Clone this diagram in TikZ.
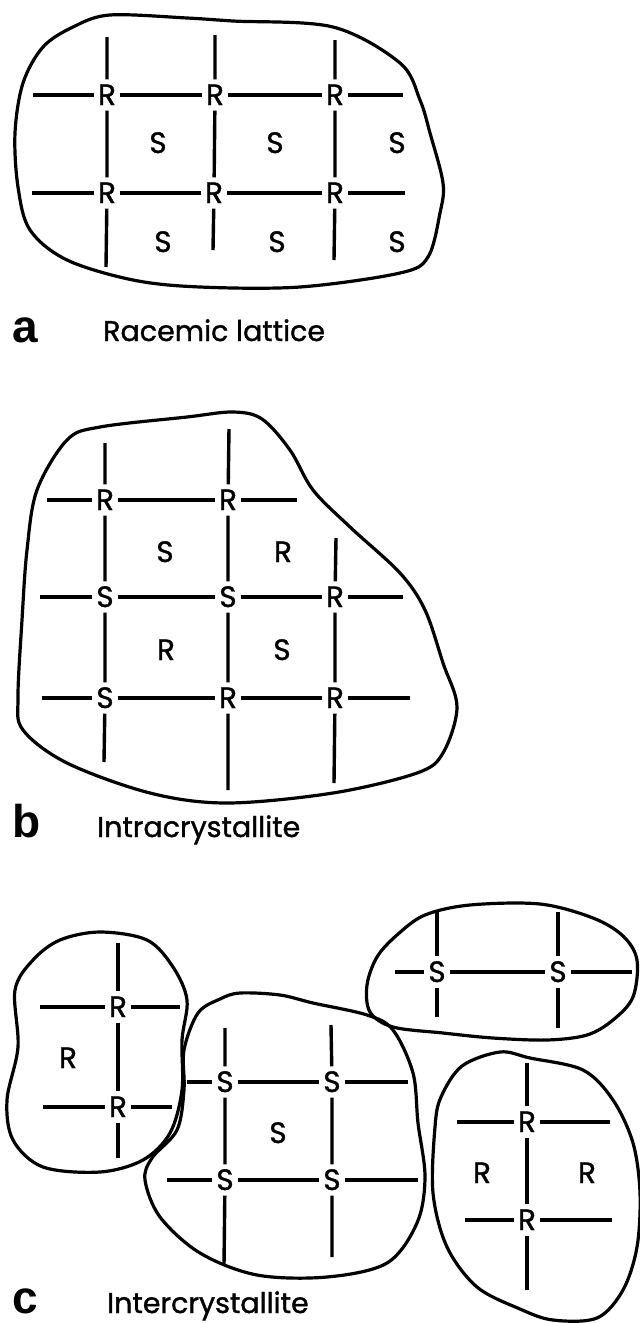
\documentclass[tikz,border=0pt]{standalone}
\usepackage{fontspec}
\newfontfamily\latticefamily{Poppins}[FakeBold=1.2]
\newfontfamily\tagfamily{Liberation Sans}
\newcommand\sitefnt{\latticefamily\fontsize{29.5pt}{31pt}\selectfont}
\newcommand\captfnt{\latticefamily\fontsize{28.5pt}{31pt}\selectfont}
\newcommand\tagfnt{\tagfamily\bfseries\fontsize{46pt}{48pt}\selectfont}
\tikzset{
  site/.style={font=\sitefnt, inner sep=0pt, minimum width=25pt, minimum height=31pt,
               text height=20pt, text depth=0pt},
  cell/.style={font=\sitefnt, inner sep=0pt, text height=20pt, text depth=0pt},
  bond/.style={line width=3.4pt},
  grain/.style={line width=3.2pt, line join=round},
  capt/.style={font=\captfnt, inner sep=0pt, anchor=base west},
  paneltag/.style={font=\tagfnt, inner sep=0pt, anchor=base west},
}
\begin{document}
\begin{tikzpicture}[x=1pt, y=-1pt]
\useasboundingbox (0,0) rectangle (640,1323);

% ---------------- (a) racemic lattice ----------------
\draw[grain] plot[smooth cycle, tension=0.55] coordinates {
  (110,15) (187,18) (233,21) (333,27) (400,63) (420,100) (430,133) (443,183)
  (440,213) (428,257) (400,273) (300,287) (200,287) (133,280) (67,260) (30,230)
  (18,187) (15,133) (23,83) (43,47) (73,27)};

\node[site] (a11) at (107,95) {R};
\node[site] (a12) at (215,95) {R};
\node[site] (a13) at (335,95) {R};
\node[site] (a21) at (107,193) {R};
\node[site] (a22) at (214,193) {R};
\node[site] (a23) at (335,193) {R};

\coordinate (at1) at (107,37);  \coordinate (ab1) at (106,267);
\coordinate (at2) at (215,35);  \coordinate (ab2) at (213,250);
\coordinate (at3) at (335,40);  \coordinate (ab3) at (334,260);
\coordinate (al1) at (33,95);   \coordinate (ar1) at (403,95);
\coordinate (al2) at (32,193);  \coordinate (ar2) at (405,193);

\draw[bond] (at1) -- (a11) (a11) -- (a21) (a21) -- (ab1);
\draw[bond] (at2) -- (a12) (a12) -- (a22) (a22) -- (ab2);
\draw[bond] (at3) -- (a13) (a13) -- (a23) (a23) -- (ab3);
\draw[bond] (al1) -- (a11) (a11) -- (a12) (a12) -- (a13) (a13) -- (ar1);
\draw[bond] (al2) -- (a21) (a21) -- (a22) (a22) -- (a23) (a23) -- (ar2);

\node[cell] (as1) at (158,143) {S};
\node[cell] (as2) at (275,143) {S};
\node[cell] (as3) at (397,143) {S};
\node[cell] (as4) at (163,242) {S};
\node[cell] (as5) at (277,242) {S};
\node[cell] (as6) at (397,242) {S};

\node[paneltag] (taga) at (12,342) {a};
\node[capt] (capa) at (103,341) {Racemic lattice};

% ---------------- (b) intracrystallite ----------------
\draw[grain] plot[smooth cycle, tension=0.55] coordinates {
  (100,427) (187,417) (233,412) (262,419) (290,450) (313,490) (350,527)
  (400,573) (425,610) (443,663) (457,707) (443,753) (417,773) (333,793)
  (227,803) (150,793) (67,763) (23,730) (18,697) (22,620) (27,550) (37,490) (67,440)};

\node[site] (b11) at (105,500) {R};
\node[site] (b12) at (228,500) {R};
\node[site] (b21) at (105,597) {S};
\node[site] (b22) at (228,597) {S};
\node[site] (b23) at (335,597) {R};
\node[site] (b31) at (105,698) {S};
\node[site] (b32) at (228,698) {R};
\node[site] (b33) at (335,698) {R};

\coordinate (bt1) at (105,443); \coordinate (bb1) at (104,762);
\coordinate (bt2) at (229,429); \coordinate (bb2) at (228,790);
\coordinate (bt3) at (336,538); \coordinate (bb3) at (334,783);
\coordinate (bl1) at (47,500);  \coordinate (br1) at (297,500);
\coordinate (bl2) at (40,597);  \coordinate (br2) at (403,597);
\coordinate (bl3) at (42,698);  \coordinate (br3) at (410,698);

\draw[bond] (bt1) -- (b11) (b11) -- (b21) (b21) -- (b31) (b31) -- (bb1);
\draw[bond] (bt2) -- (b12) (b12) -- (b22) (b22) -- (b32) (b32) -- (bb2);
\draw[bond] (bt3) -- (b23) (b23) -- (b33) (b33) -- (bb3);
\draw[bond] (bl1) -- (b11) (b11) -- (b12) (b12) -- (br1);
\draw[bond] (bl2) -- (b21) (b21) -- (b22) (b22) -- (b23) (b23) -- (br2);
\draw[bond] (bl3) -- (b31) (b31) -- (b32) (b32) -- (b33) (b33) -- (br3);

\node[cell] (bc1) at (165,552) {S};
\node[cell] (bc2) at (283,552) {R};
\node[cell] (bc3) at (166,650) {R};
\node[cell] (bc4) at (282,650) {S};

\node[paneltag] (tagb) at (12,837) {b};
\node[capt] (capb) at (97,837) {Intracrystallite};

% ---------------- (c) intercrystallite ----------------
% left grain (R)
\draw[grain] plot[smooth cycle, tension=0.55] coordinates {
  (100,932) (147,940) (173,967) (187,1000) (182,1040) (182,1090) (170,1133)
  (143,1160) (100,1172) (43,1167) (13,1140) (7,1100) (18,1047) (15,990) (33,960) (60,940)};
% middle grain (S)
\draw[grain] plot[smooth cycle, tension=0.55] coordinates {
  (240,993) (280,995) (313,1003) (367,1015) (393,1030) (413,1073) (418,1123)
  (425,1177) (417,1223) (387,1263) (327,1277) (257,1275) (200,1253) (160,1217)
  (145,1180) (152,1158) (177,1130) (184,1090) (184,1050) (198,1013) (220,999)};
% upper right grain (S)
\draw[grain] plot[smooth cycle, tension=0.55] coordinates {
  (470,905) (540,904) (593,918) (623,936) (637,960) (633,997) (613,1020)
  (587,1035) (547,1040) (493,1038) (443,1033) (393,1027) (370,1012) (367,985)
  (377,957) (397,935) (425,915)};
% lower right grain (R)
\draw[grain] plot[smooth cycle, tension=0.55] coordinates {
  (500,1052) (530,1058) (583,1070) (613,1100) (633,1143) (640,1193) (637,1247)
  (623,1290) (597,1318) (553,1320) (520,1309) (477,1287) (447,1247) (433,1193)
  (435,1127) (441,1097) (462,1066)};

% left grain lattice
\node[site] (c11) at (118,1007) {R};
\node[site] (c12) at (118,1107) {R};
\coordinate (c1t) at (118,943);  \coordinate (c1b) at (118,1158);
\coordinate (c1l1) at (40,1007); \coordinate (c1r1) at (180,1007);
\coordinate (c1l2) at (43,1107); \coordinate (c1r2) at (172,1107);
\draw[bond] (c1t) -- (c11) (c11) -- (c12) (c12) -- (c1b);
\draw[bond] (c1l1) -- (c11) (c11) -- (c1r1);
\draw[bond] (c1l2) -- (c12) (c12) -- (c1r2);
\node[cell] (c1c) at (68,1058) {R};

% middle grain lattice
\node[site] (c21) at (225,1082) {S};
\node[site] (c22) at (332,1082) {S};
\node[site] (c23) at (225,1180) {S};
\node[site] (c24) at (332,1180) {S};
\coordinate (c2t1) at (225,1028); \coordinate (c2b1) at (224,1265);
\coordinate (c2t2) at (331,1025); \coordinate (c2b2) at (332,1257);
\coordinate (c2l1) at (187,1082); \coordinate (c2r1) at (408,1082);
\coordinate (c2l2) at (167,1180); \coordinate (c2r2) at (418,1180);
\draw[bond] (c2t1) -- (c21) (c21) -- (c23) (c23) -- (c2b1);
\draw[bond] (c2t2) -- (c22) (c22) -- (c24) (c24) -- (c2b2);
\draw[bond] (c2l1) -- (c21) (c21) -- (c22) (c22) -- (c2r1);
\draw[bond] (c2l2) -- (c23) (c23) -- (c24) (c24) -- (c2r2);
\node[cell] (c2c) at (278,1133) {S};

% upper right grain lattice
\node[site] (c31) at (437,972) {S};
\node[site] (c32) at (558,972) {S};
\coordinate (c3t1) at (437,912); \coordinate (c3b1) at (437,1017);
\coordinate (c3t2) at (558,912); \coordinate (c3b2) at (558,1028);
\coordinate (c3l) at (395,972);  \coordinate (c3r) at (632,972);
\draw[bond] (c3t1) -- (c31) (c31) -- (c3b1);
\draw[bond] (c3t2) -- (c32) (c32) -- (c3b2);
\draw[bond] (c3l) -- (c31) (c31) -- (c32) (c32) -- (c3r);

% lower right grain lattice
\node[site] (c41) at (527,1122) {R};
\node[site] (c42) at (527,1220) {R};
\coordinate (c4t) at (527,1063); \coordinate (c4b) at (527,1290);
\coordinate (c4l1) at (457,1122); \coordinate (c4r1) at (610,1122);
\coordinate (c4l2) at (465,1220); \coordinate (c4r2) at (612,1220);
\draw[bond] (c4t) -- (c41) (c41) -- (c42) (c42) -- (c4b);
\draw[bond] (c4l1) -- (c41) (c41) -- (c4r1);
\draw[bond] (c4l2) -- (c42) (c42) -- (c4r2);
\node[cell] (c4c1) at (482,1173) {R};
\node[cell] (c4c2) at (587,1173) {R};

\node[paneltag] (tagc) at (12,1313) {c};
\node[capt] (capc) at (107,1313) {Intercrystallite};
\end{tikzpicture}
\end{document}
